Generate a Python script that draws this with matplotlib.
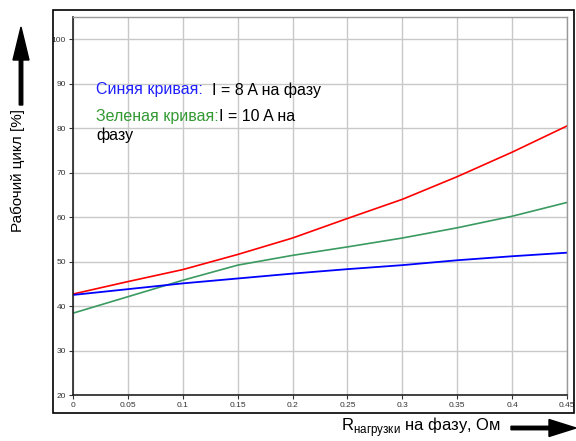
import matplotlib.pyplot as plt
import matplotlib.transforms as mtransforms
from matplotlib.patches import FancyArrow, Rectangle

plt.rcParams["font.family"] = ["Liberation Sans", "DejaVu Sans"]

# values
r_load = [0, 0.05, 0.1, 0.15, 0.2, 0.25, 0.3, 0.35, 0.4, 0.45]
duty_red = [42.7, 45.5, 48.2, 51.6, 55.3, 59.7, 64.0, 69.1, 74.6, 80.5]
duty_green = [38.4, 42.1, 45.8, 49.2, 51.4, 53.3, 55.3, 57.6, 60.2, 63.3]
duty_blue = [42.5, 43.8, 45.1, 46.2, 47.3, 48.3, 49.2, 50.3, 51.2, 52.0]

x_ticks = [0, 0.05, 0.1, 0.15, 0.2, 0.25, 0.3, 0.35, 0.4, 0.45]
x_tick_labels = ["0", "0.05", "0.1", "0.15", "0.2", "0.25", "0.3", "0.35", "0.4", "0.45"]
y_ticks = [20, 30, 40, 50, 60, 70, 80, 90, 100]

W, H = 576, 441
fig = plt.figure(figsize=(W / 100, H / 100), dpi=100)
fig.patch.set_facecolor("white")
px = mtransforms.Affine2D().scale(1 / W, 1 / H) + fig.transFigure

# outer frame
fig.add_artist(Rectangle((53, H - 413), 521, 403, transform=px,
                         fill=False, ec="black", lw=1.2))

ax = fig.add_axes([73 / W, 1 - 395 / H, (567 - 73) / W, (395 - 17) / H])
ax.plot(r_load, duty_red, color="#ff0000", lw=1.2)
ax.plot(r_load, duty_green, color="#3a9a60", lw=1.2)
ax.plot(r_load, duty_blue, color="#0000ff", lw=1.3)

ax.set_xlim(0, 0.45)
ax.set_ylim(20, 105)
ax.set_xticks(x_ticks)
ax.set_xticklabels(x_tick_labels)
ax.set_yticks(y_ticks)
ax.grid(True, color="#c8c8c8", lw=1.0)
ax.set_axisbelow(True)
ax.tick_params(labelsize=6, length=3, width=0.8, color="#333333",
               labelcolor="#333333", pad=2)
for side in ("left", "bottom"):
    ax.spines[side].set_color("#222222")
    ax.spines[side].set_linewidth(1.2)
for side in ("top", "right"):
    ax.spines[side].set_color("#999999")
    ax.spines[side].set_linewidth(1.0)

# annotation text
fs = 11.5
t1 = ax.text(0.0466, 0.807, "Синяя кривая:", transform=ax.transAxes,
             color="#2020ff", fontsize=fs, va="center", ha="left")
ax.annotate("  I = 8 A на фазу", xy=(1, 0.5), xycoords=t1,
            va="center", ha="left", fontsize=fs, color="black")
t2 = ax.text(0.0466, 0.738, "Зеленая кривая:", transform=ax.transAxes,
             color="#339933", fontsize=fs, va="center", ha="left")
ax.annotate("I = 10 A на", xy=(1, 0.5), xycoords=t2,
            va="center", ha="left", fontsize=fs, color="black")
ax.text(0.0466, 0.686, "фазу", transform=ax.transAxes,
        color="black", fontsize=fs, va="center", ha="left")

# axis labels with arrows
fig.text(18 / W, 1 - 171 / H, "Рабочий цикл [%]", rotation=90,
         ha="center", va="center", fontsize=11)
fig.add_artist(FancyArrow(21, H - 105, 0, 78, width=3.5, head_width=16,
                          head_length=33, length_includes_head=True,
                          color="black", transform=px))

fig.text(421 / W, 1 - 427 / H, "R$_{\\mathregular{нагрузки}}$ на фазу, Ом",
         ha="center", va="center", fontsize=12)
fig.add_artist(FancyArrow(511, H - 428, 65, 0, width=3.5, head_width=17,
                          head_length=27, length_includes_head=True,
                          color="black", transform=px))

fig.savefig("out.png", dpi=100, facecolor="white")
